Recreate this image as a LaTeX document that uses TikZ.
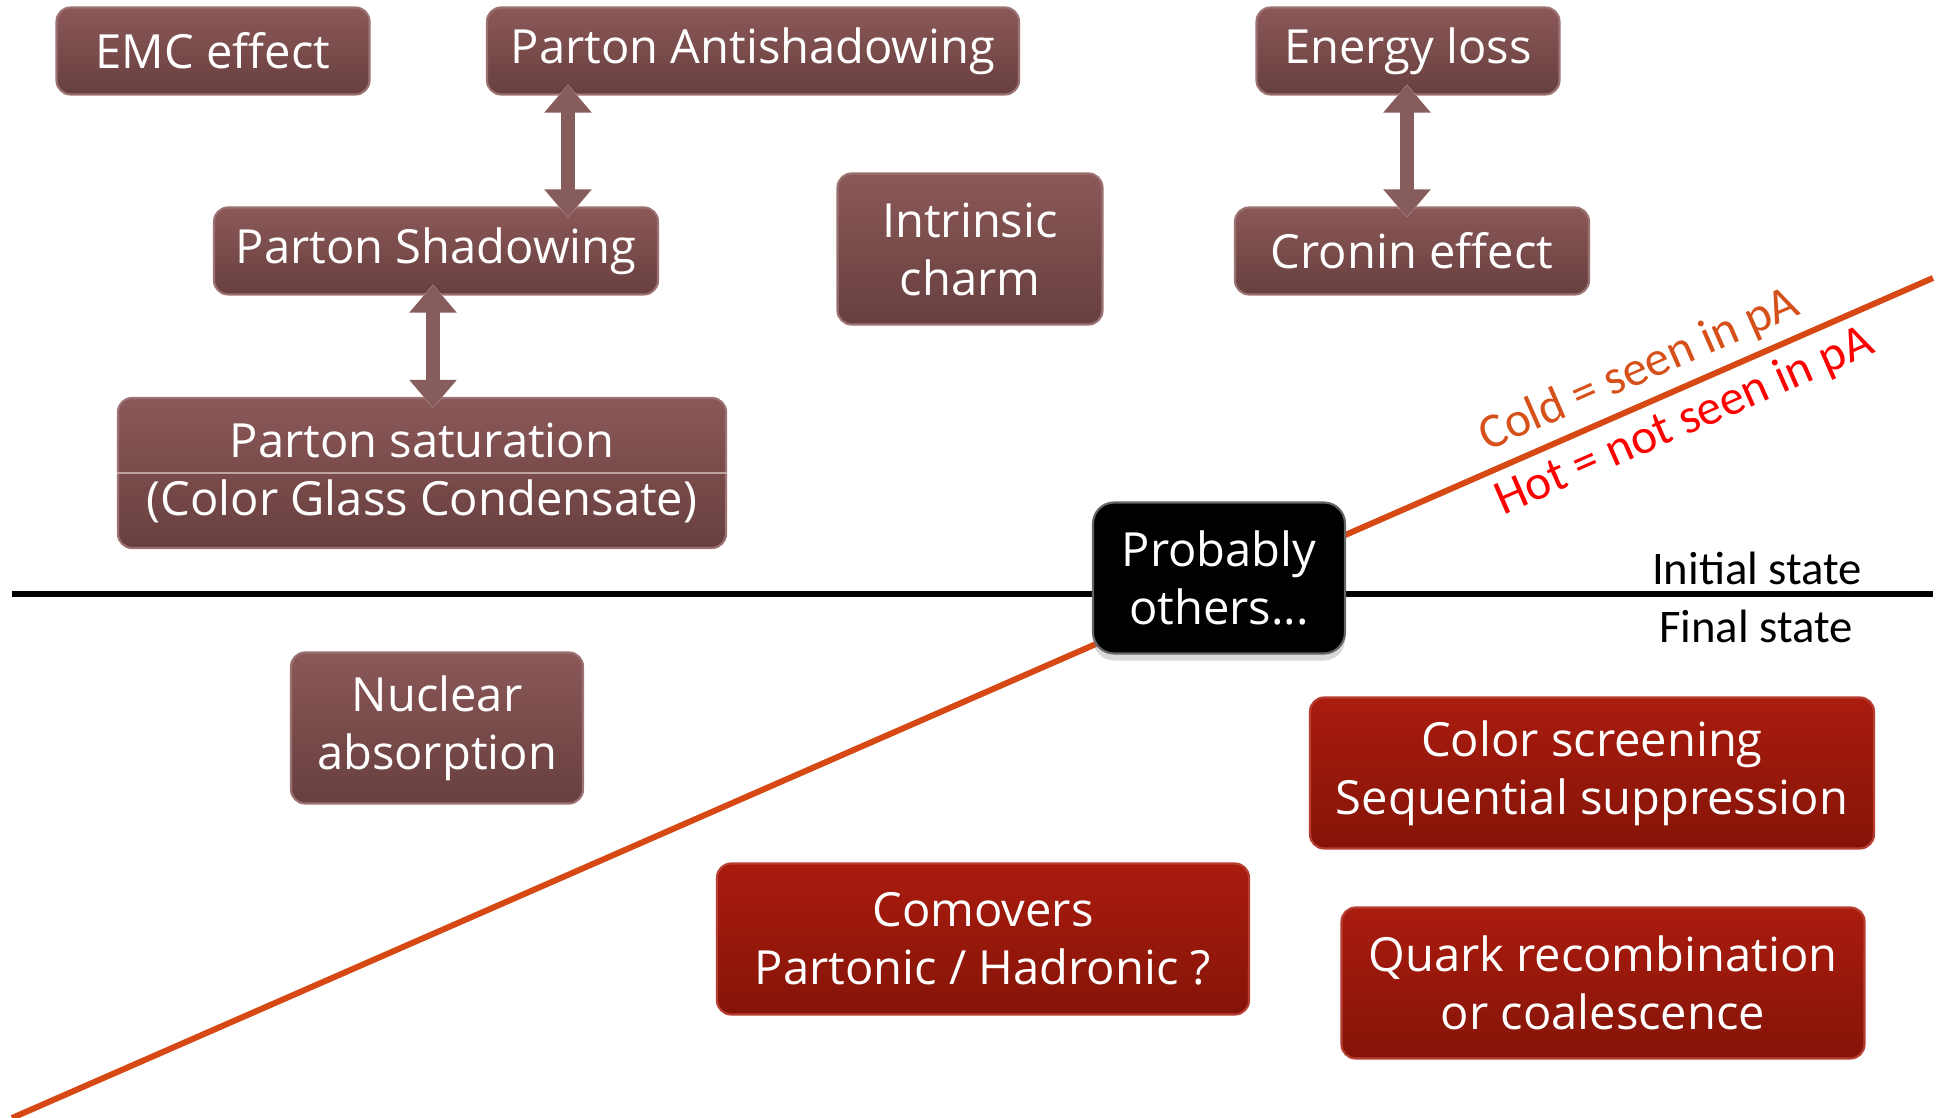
\documentclass[tikz,border=0pt]{standalone}
\usepackage{fontspec}
\setmainfont{Open Sans}
\newfontfamily\statefont{Carlito}
\usetikzlibrary{positioning, arrows.meta, shadows}

\definecolor{boxtop}{RGB}{139,88,88}
\definecolor{boxbot}{RGB}{104,63,63}
\definecolor{redtop}{RGB}{170,28,14}
\definecolor{redbot}{RGB}{132,20,8}
\definecolor{arrowc}{RGB}{134,92,92}
\definecolor{linec}{RGB}{214,72,20}
\definecolor{coldc}{RGB}{214,80,26}

\tikzset{
  effect/.style={rounded corners=4pt, top color=boxtop, bottom color=boxbot,
    draw=boxtop!85!white, line width=0.6pt, text=white, align=center,
    font=\fontsize{13.4}{16.5}\selectfont, minimum height=0.87cm, inner sep=2pt},
  hoteffect/.style={effect, top color=redtop, bottom color=redbot, draw=redtop!85!white},
  otherbox/.style={effect, fill=black, top color=black, bottom color=black,
    draw=black!60, rounded corners=6pt,
    drop shadow={shadow xshift=0pt, shadow yshift=-2pt, opacity=0.3}},
  link/.style={line width=4.2pt, arrowc,
    arrows={Triangle[width=13pt,length=8pt]-Triangle[width=13pt,length=8pt]},
    preaction={draw=white, line width=6pt,
      arrows={Triangle[width=16.5pt,length=10pt]-Triangle[width=16.5pt,length=10pt]}},
    shorten <=-0.11cm, shorten >=-0.11cm},
  statetext/.style={font=\statefont\fontsize{13.3}{16}\selectfont}
}

\begin{document}
\begin{tikzpicture}
	\useasboundingbox (0,0) rectangle (19.39,-11.18);
	% border lines
	\coordinate (lo) at (0.12,-11.18);
	\coordinate (hi) at (19.33,-2.78);
	\coordinate (left) at (0.12,-5.936);
	\coordinate (right) at (19.33,-5.936);
	\draw [line width=1.7pt] (left) -- (right);
	\draw [line width=1.7pt, linec] (lo) -- (hi)
		node [pos=0.854, sloped, above=1.5pt, inner sep=1pt, coldc, font=\statefont\fontsize{14}{16}\selectfont] (cold) {Cold = seen in pA}
		node [pos=0.864, sloped, below=1.5pt, inner sep=1pt, red, font=\statefont\fontsize{14}{16}\selectfont] (hot) {Hot = not seen in pA};
	\node [statetext] (init) at (17.57,-5.68) {Initial state};
	\node [statetext] (final) at (17.56,-6.26) {Final state};

	% cold effects
	\node [effect, minimum width=3.13cm] (emc) at (2.13,-0.51) {EMC effect};
	\node [effect, minimum width=5.32cm] (anti) at (7.53,-0.51) {Parton Antishadowing};
	\node [effect, minimum width=3.03cm] (eloss) at (14.08,-0.51) {Energy loss};
	\node [effect, minimum width=4.44cm] (shad) at (4.36,-2.51) {Parton Shadowing};
	\node [effect, minimum width=2.65cm, minimum height=1.51cm] (charm) at (9.70,-2.49) {Intrinsic\\charm};
	\node [effect, minimum width=3.54cm] (cronin) at (14.12,-2.51) {Cronin effect};
	\node [effect, minimum width=6.08cm, minimum height=1.50cm] (sat) at (4.22,-4.73) {Parton saturation\\(Color Glass Condensate)};
	\draw [line width=0.4pt, boxtop!55!white] (sat.west) -- (sat.east);
	\node [effect, minimum width=2.92cm, minimum height=1.51cm] (absorb) at (4.37,-7.28) {Nuclear\\absorption};

	% hot effects
	\node [hoteffect, minimum width=5.64cm, minimum height=1.51cm] (screen) at (15.92,-7.73) {Color screening\\Sequential suppression};
	\node [hoteffect, minimum width=5.32cm, minimum height=1.51cm] (comov) at (9.83,-9.39) {Comovers\\Partonic / Hadronic ?};
	\node [hoteffect, minimum width=5.23cm, minimum height=1.51cm] (recomb) at (16.03,-9.83) {Quark recombination\\or coalescence};

	\node [otherbox, minimum width=2.52cm, minimum height=1.51cm] (others) at (12.19,-5.78) {Probably\\others...};

	% links
	\draw [link] (5.68,0 |- anti.south) -- (5.68,0 |- shad.north);
	\draw [link] (4.33,0 |- shad.south) -- (4.33,0 |- sat.north);
	\draw [link] (14.07,0 |- eloss.south) -- (14.07,0 |- cronin.north);
\end{tikzpicture}
\end{document}
